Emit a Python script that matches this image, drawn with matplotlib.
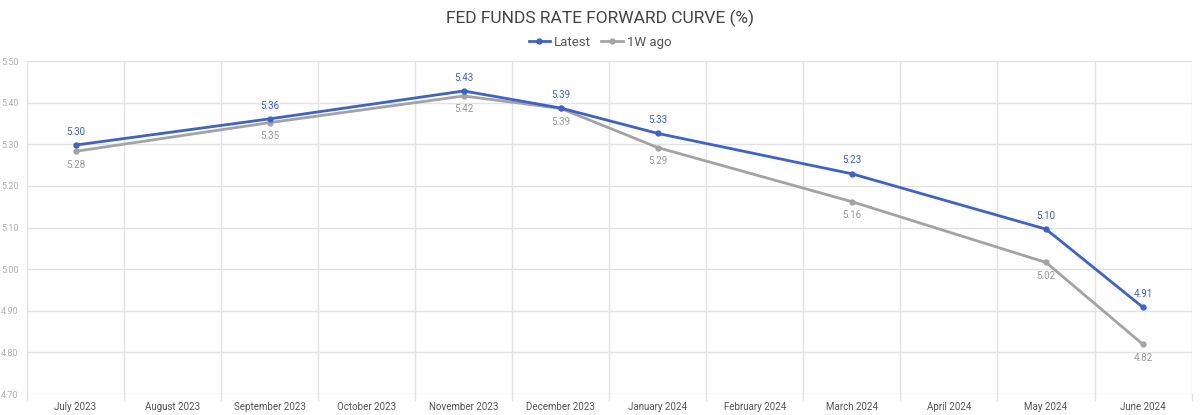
import matplotlib.pyplot as plt

# Категории оси X (месяцы)
months = ["July 2023", "August 2023", "September 2023", "October 2023",
          "November 2023", "December 2023", "January 2024", "February 2024",
          "March 2024", "April 2024", "May 2024", "June 2024"]

# Месяцы, для которых есть точки
point_months = ["July 2023", "September 2023", "November 2023", "December 2023",
                "January 2024", "March 2024", "May 2024", "June 2024"]
latest = [5.298, 5.361, 5.428, 5.387, 5.326, 5.229, 5.096, 4.908]
week_ago = [5.283, 5.352, 5.416, 5.386, 5.292, 5.162, 5.016, 4.819]

y_ticks = [4.70, 4.80, 4.90, 5.00, 5.10, 5.20, 5.30, 5.40, 5.50]

blue = "#3d62c9"
grey = "#a3a3a3"

plt.rcParams["font.family"] = ["Roboto", "DejaVu Sans"]

fig = plt.figure(figsize=(12, 4.15), dpi=100)
ax = fig.add_axes([0.0225, 0.0506, 0.9705, 0.8024])

xs = [months.index(m) for m in point_months]

ax.plot(xs, latest, color=blue, lw=2, marker="o", ms=3.5, label="Latest", zorder=3)
ax.plot(xs, week_ago, color=grey, lw=2, marker="o", ms=3.5, label="1W ago", zorder=2)

for x, v in zip(xs, latest):
    ax.annotate(f"{v:.2f}", (x, v), xytext=(0, 6), textcoords="offset points",
                ha="center", va="bottom", fontsize=7, color=blue)
for x, v in zip(xs, week_ago):
    ax.annotate(f"{v:.2f}", (x, v), xytext=(0, -6), textcoords="offset points",
                ha="center", va="top", fontsize=7, color="#999999")

ax.set_xlim(-0.5, len(months) - 0.5)
ax.set_ylim(4.70, 5.50)
ax.set_yticks(y_ticks)
ax.set_yticklabels([f"{t:.2f}" for t in y_ticks], fontsize=6.5, color="#b0b0b0")
ax.set_xticks(range(len(months)))
ax.set_xticklabels(months, fontsize=7, color="#555555")
ax.tick_params(axis="both", length=0, pad=6)

# Сетка
ax.grid(axis="y", color="#e3e3e3", lw=1)
for b in [i + 0.5 for i in range(-1, len(months))]:
    ax.axvline(b, color="#e3e3e3", lw=1, zorder=0)
    ax.plot([b, b], [4.70, 4.685], color="#e3e3e3", lw=1, clip_on=False)
for s in ax.spines.values():
    s.set_visible(False)
ax.set_axisbelow(True)

fig.text(0.5, 0.955, "FED FUNDS RATE FORWARD CURVE (%)", ha="center", va="center",
         fontsize=12.5, color="#444444")
fig.legend(loc="center", bbox_to_anchor=(0.5, 0.898), ncol=2, frameon=False,
           fontsize=9.5, handlelength=1.6, handletextpad=0.3, columnspacing=0.8,
           labelcolor="#555555")

fig.savefig("out.png", dpi=100)
